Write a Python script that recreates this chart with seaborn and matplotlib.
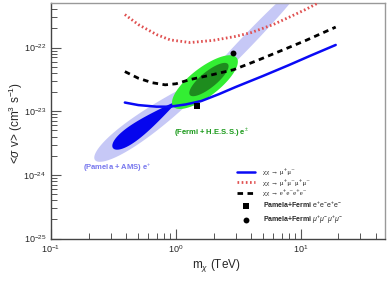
import numpy as np
import pandas as pd
import matplotlib
matplotlib.use("Agg")
import matplotlib.pyplot as plt
import seaborn as sns

# annihilation cross-section curves (m in TeV, sigma v in cm^3 s^-1)
mass_mumu = [0.39, 0.5, 0.7, 0.9, 1.2, 1.6, 2.2, 3.0, 5.0, 8.0, 12.0, 19.0]
sv_mumu = [1.37e-23, 1.25e-23, 1.18e-23, 1.18e-23, 1.28e-23, 1.45e-23, 1.85e-23,
           2.4e-23, 3.6e-23, 5.3e-23, 7.5e-23, 1.1e-22]

mass_4mu = [0.39, 0.5, 0.7, 0.9, 1.3, 2.0, 3.0, 4.0, 6.0, 8.2, 11.0, 13.4]
sv_4mu = [3.3e-22, 2.3e-22, 1.6e-22, 1.32e-22, 1.2e-22, 1.3e-22, 1.5e-22,
          1.72e-22, 2.3e-22, 3.05e-22, 4.0e-22, 4.9e-22]

mass_4e = [0.39, 0.5, 0.65, 0.82, 1.0, 1.3, 1.9, 2.9, 4.5, 7.0, 11.0, 19.0]
sv_4e = [4.2e-23, 3.3e-23, 2.8e-23, 2.6e-23, 2.7e-23, 3.15e-23, 3.7e-23,
         4.5e-23, 6.3e-23, 9.0e-23, 1.3e-22, 2.1e-22]

# best-fit points
mass_best_4e, sv_best_4e = [1.47], [1.23e-23]
mass_best_4mu, sv_best_4mu = [2.86], [8.3e-23]

# allowed regions, ellipses in log10 space: center, half-length vector, half-width vector
pam_outer_low = [(-0.188, -23.122), (0.460, 0.644), (0.056, -0.150)]
pam_outer_high = [(0.580, -21.882), (0.458, 0.939), (0.036, -0.066)]
pam_inner = [(-0.252, -23.217), (0.252, 0.361), (0.033, -0.089)]
fermi_outer = [(0.232, -22.542), (0.254, 0.382), (0.070, -0.180)]
fermi_inner = [(0.264, -22.502), (0.152, 0.243), (0.040, -0.097)]

legend_labels = ["χχ → μ⁺μ⁻", "χχ → μ⁺μ⁻μ⁺μ⁻", "χχ → e⁺e⁻e⁺e⁻",
                 r"$\mathbf{Pamela{+}Fermi}$ e$^{+}$e$^{-}$e$^{+}$e$^{-}$",
                 r"$\mathbf{Pamela{+}Fermi}$ $\mu^{+}\mu^{-}\mu^{+}\mu^{-}$"]


def region(params, taper=0.0):
    (cx, cy), (ax_, ay_), (bx, by) = params
    t = np.linspace(0, 2 * np.pi, 300)
    c, s = np.cos(t), np.sin(t)
    w = s * (1 - taper * c)
    lx = cx + c * ax_ + w * bx
    ly = cy + c * ay_ + w * by
    return 10 ** lx, 10 ** ly


sns.set_style("ticks")
plt.rcParams["font.family"] = ["Liberation Sans", "DejaVu Sans"]
plt.rcParams["mathtext.fontset"] = "custom"
plt.rcParams["mathtext.rm"] = "Liberation Sans"
plt.rcParams["mathtext.it"] = "Liberation Sans:italic"
plt.rcParams["mathtext.bf"] = "Liberation Sans:bold"

fig = plt.figure(figsize=(3.9, 2.81), dpi=100)
ax = fig.add_axes([0.1308, 0.151, 0.856, 0.838])
ax.set_xscale("log")
ax.set_yscale("log")

lavender = "#c6c8f6"
ax.fill(*region(pam_outer_low, taper=0.3), color=lavender, lw=0, zorder=1)
ax.fill(*region(pam_outer_high), color=lavender, lw=0, zorder=1)
ax.fill(*region(pam_inner, taper=0.6), color="#0505ee", lw=0, zorder=2)
ax.fill(*region(fermi_outer), color="#33ee33", lw=0, zorder=2)
ax.fill(*region(fermi_inner), color="#1e8c1e", lw=0, zorder=3)

sns.lineplot(x=mass_mumu, y=sv_mumu, ax=ax, color="#0a0af5", lw=1.8,
             label=legend_labels[0], zorder=5)
sns.lineplot(x=mass_4mu, y=sv_4mu, ax=ax, color="#e05050", lw=2, ls=(0, (0.6, 0.9)),
             label=legend_labels[1], zorder=5)
sns.lineplot(x=mass_4e, y=sv_4e, ax=ax, color="black", lw=2, ls=(0, (2, 1.6)),
             label=legend_labels[2], zorder=5)
sns.scatterplot(x=mass_best_4e, y=sv_best_4e, ax=ax, color="black", marker="s", s=18,
                linewidth=0, label=legend_labels[3], zorder=6)
sns.scatterplot(x=mass_best_4mu, y=sv_best_4mu, ax=ax, color="black", marker="o", s=18,
                linewidth=0, label=legend_labels[4], zorder=6)

ax.set_xlim(0.1, 47)
ax.set_ylim(1e-25, 5e-22)

leg = ax.legend(loc="upper left", bbox_to_anchor=(0.557, 0.298), frameon=False, fontsize=5,
                handlelength=2.6, labelspacing=0.5, handletextpad=1.1, borderpad=0,
                borderaxespad=0)
for txt in leg.get_texts()[:3]:
    txt.set_fontfamily(["Liberation Serif", "DejaVu Serif"])

ax.text(1.94, 4.55e-24, r"(Fermi + H.E.S.S.) e$^{\pm}$", color="#1a9a1a", fontsize=5.5,
        fontweight="bold", ha="center", va="center")
ax.text(0.337, 1.28e-24, r"(Pamela + AMS) e$^{+}$", color="#7878ee", fontsize=5.5,
        fontweight="bold", ha="center", va="center")

fig.text(216 / 390, 1 - 265 / 281, r"m$_{\chi}$ (TeV)", fontsize=8.5, ha="center", va="center")
fig.text(16 / 390, 1 - 123 / 281, r"<$\sigma$ v> (cm$^{3}$ s$^{-1}$)", fontsize=8.5,
         rotation=90, ha="center", va="center")
ax.set_xlabel("")
ax.set_ylabel("")

ax.tick_params(which="both", direction="in", top=False, right=False, labelsize=6.5,
               color="#555555")
ax.tick_params(which="major", length=7, width=0.8)
ax.tick_params(which="minor", length=4, width=0.7)
for side in ["left", "bottom"]:
    ax.spines[side].set_color("#444444")
    ax.spines[side].set_linewidth(1.0)
for side in ["top", "right"]:
    ax.spines[side].set_color("#999999")
    ax.spines[side].set_linewidth(1.0)

fig.savefig("out.png", dpi=100)
